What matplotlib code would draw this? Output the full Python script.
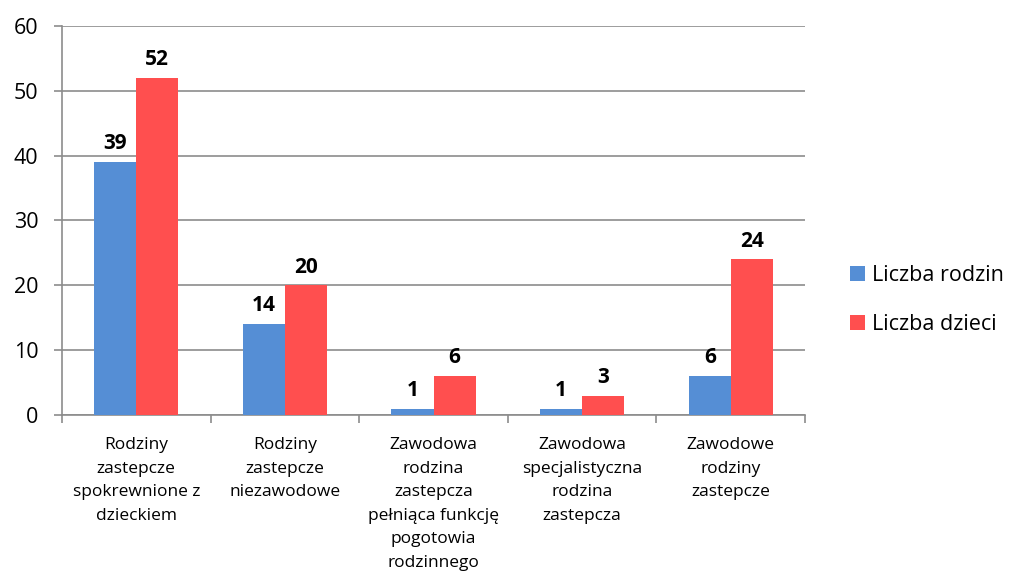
import numpy as np
import matplotlib.pyplot as plt
from matplotlib.ticker import FixedLocator, NullFormatter

plt.rcParams['font.family'] = ['Open Sans', 'DejaVu Sans']

categories = ["Rodziny\nzastepcze\nspokrewnione z\ndzieckiem",
              "Rodziny\nzastepcze\nniezawodowe",
              "Zawodowa\nrodzina\nzastepcza\npełniąca funkcję\npogotowia\nrodzinnego",
              "Zawodowa\nspecjalistyczna\nrodzina\nzastepcza",
              "Zawodowe\nrodziny\nzastepcze"]
rodzin = [39, 14, 1, 1, 6]
dzieci = [52, 20, 6, 3, 24]
series_names = ["Liczba rodzin", "Liczba dzieci"]

blue = "#558ED5"
red = "#FF4F4F"
grid = "#8C8C8C"

fig = plt.figure(figsize=(10.13, 5.8), dpi=100)
ax = fig.add_axes([0.0612, 0.2845, 0.7335, 0.6707])

x = np.arange(len(categories))
w = 0.283
b1 = ax.bar(x - w / 2, rodzin, w, color=blue, label=series_names[0], zorder=3)
b2 = ax.bar(x + w / 2, dzieci, w, color=red, label=series_names[1], zorder=3)

for bars in (b1, b2):
    for r in bars:
        ax.text(r.get_x() + r.get_width() / 2, r.get_height() + 1.2,
                str(int(r.get_height())), ha='center', va='bottom',
                fontsize=15, fontweight='bold', zorder=4)

ax.set_xlim(-0.5, len(categories) - 0.5)
ax.set_ylim(0, 60)
ax.set_yticks(range(0, 61, 10))
ax.yaxis.grid(True, color=grid, linewidth=1.2, zorder=0)
ax.tick_params(axis='y', labelsize=15.5, length=6, color=grid, width=1.2, pad=11)

ax.set_xticks(x)
ax.set_xticklabels(categories, fontsize=12.5, linespacing=1.63)
ax.tick_params(axis='x', which='major', length=0, pad=16)
ax.xaxis.set_minor_locator(FixedLocator(np.arange(-0.5, len(categories), 1.0)))
ax.xaxis.set_minor_formatter(NullFormatter())
ax.tick_params(axis='x', which='minor', length=6, color=grid, width=1.2)

for s in ('top', 'right'):
    ax.spines[s].set_visible(False)
for s in ('left', 'bottom'):
    ax.spines[s].set_color(grid)
    ax.spines[s].set_linewidth(1.2)

ax.legend(loc='center left', bbox_to_anchor=(1.035, 0.295), frameon=False,
          fontsize=15.5, handlelength=0.7, handleheight=0.7,
          handletextpad=0.3, labelspacing=1.3)

fig.savefig("out.png", dpi=100)
